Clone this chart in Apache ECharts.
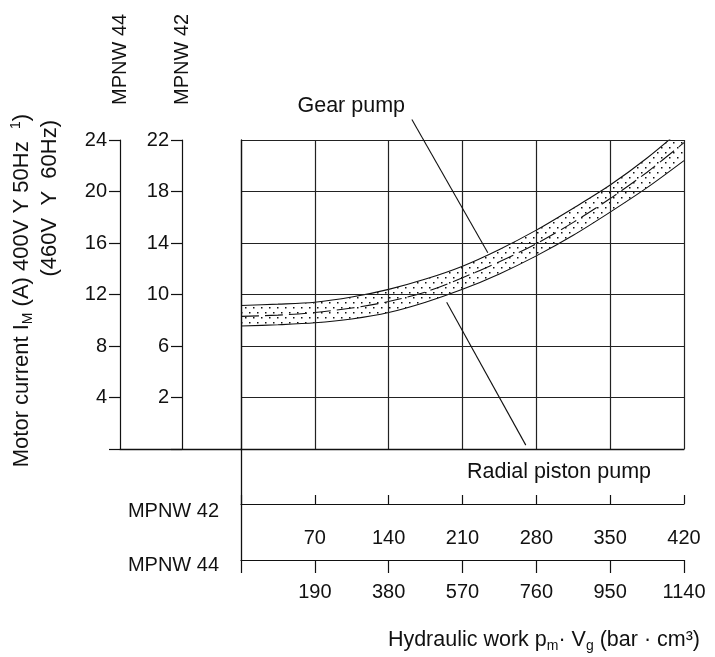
<!DOCTYPE html>
<html><head><meta charset="utf-8">
<script src="https://cdn.jsdelivr.net/npm/echarts@6/dist/echarts.min.js"></script>
<style>html,body{margin:0;padding:0;background:#fff}#c{width:715px;height:657px}</style>
</head><body><div id="c"></div>
<script>
// Hydraulic work for MPNW 42 (bar·cm³) – main horizontal scale
const workMPNW42 = [0, 35, 70, 105, 140, 175, 210, 245, 280, 315, 350, 385, 420];
// Motor current (A, MPNW 44 scale) – band limits and centre line
const bandUpper = [11.15, 11.25, 11.4, 11.8, 12.4, 13.2, 14.2, 15.5, 17.0, 18.7, 20.5, 22.6, 25.0];
const bandCentre = [10.3, 10.4, 10.6, 10.95, 11.45, 12.2, 13.3, 14.55, 15.95, 17.6, 19.45, 21.5, 23.8];
const bandLower = [9.55, 9.65, 9.8, 10.1, 10.6, 11.4, 12.4, 13.6, 15.0, 16.6, 18.4, 20.3, 22.4];

// Tick labels
const ticks44Current = [4, 8, 12, 16, 20, 24];
const ticks42Current = [2, 6, 10, 14, 18, 22];
const ticks42Work = [70, 140, 210, 280, 350, 420];
const ticks44Work = [190, 380, 570, 760, 950, 1140];

// Annotation leader lines (data units of main grid)
const gearLeader = [[162, 25.6], [234, 15.25]];
const radialLeader = [[195, 11.4], [270, 0.3]];

const FONT = '"Liberation Sans", Arial, sans-serif';
const FS = 20;   // tick labels
const FT = 21.5; // annotation / titles
const BLACK = '#111';

function dotPattern() {
  const c = document.createElement('canvas');
  c.width = 8; c.height = 10;
  const g = c.getContext('2d');
  g.fillStyle = '#111';
  g.fillRect(1, 2, 1.5, 1.5);
  g.fillRect(5, 7, 1.5, 1.5);
  return c;
}

const pair = (xs, ys) => xs.map((x, i) => [x, ys[i]]);

const chart = echarts.init(document.getElementById('c'), null, {renderer: 'canvas'});
const lbl = {color: BLACK, fontFamily: FONT, fontSize: FS};

const option = {
  animation: false,
  backgroundColor: '#fff',
  grid: [
    {left: 241, top: 140, width: 443, height: 309},
    {left: 120, top: 140, width: 121, height: 309},
    {left: 241, top: 449, width: 443, height: 111}
  ],
  xAxis: [
    {gridIndex: 0, type: 'value', min: 0, max: 420, interval: 70, z: 5,
     axisLine: {show: true, lineStyle: {color: BLACK, width: 1.3}},
     axisTick: {show: false}, axisLabel: {show: false},
     splitLine: {show: true, lineStyle: {color: '#222', width: 1.2}}},
    {gridIndex: 1, type: 'value', min: 0, max: 1,
     axisLine: {show: true, lineStyle: {color: BLACK, width: 1.3}},
     axisTick: {show: false}, axisLabel: {show: false}, splitLine: {show: false}},
    {gridIndex: 2, type: 'value', position: 'bottom', offset: -56, min: 0, max: 420, interval: 70,
     axisLine: {show: true, onZero: false, lineStyle: {color: BLACK, width: 1.2}},
     axisTick: {show: true, inside: true, length: 9, lineStyle: {color: BLACK, width: 1.2}},
     axisLabel: Object.assign({margin: 24, formatter: v => ticks42Work.includes(v) ? String(v) : ''}, lbl),
     splitLine: {show: false}},
    {gridIndex: 2, type: 'value', position: 'bottom', offset: 0, min: 0, max: 1140, interval: 190,
     axisLine: {show: true, onZero: false, lineStyle: {color: BLACK, width: 1.2}},
     axisTick: {show: true, inside: false, length: 13, lineStyle: {color: BLACK, width: 1.2}},
     axisLabel: Object.assign({margin: 22, formatter: v => ticks44Work.includes(v) ? String(v) : ''}, lbl),
     splitLine: {show: false}}
  ],
  yAxis: [
    {gridIndex: 0, type: 'value', min: 0, max: 24, interval: 4, z: 5,
     axisLine: {show: true, lineStyle: {color: BLACK, width: 1.3}},
     axisTick: {show: false}, axisLabel: {show: false},
     splitLine: {show: true, lineStyle: {color: '#222', width: 1.2}}},
    {gridIndex: 1, type: 'value', position: 'left', offset: 0, min: 0, max: 24, interval: 4,
     name: 'MPNW 44', nameLocation: 'end', nameRotate: 90, nameGap: 35,
     nameTextStyle: {color: BLACK, fontFamily: FONT, fontSize: FS},
     axisLine: {show: true, onZero: false, lineStyle: {color: BLACK, width: 1.2}},
     axisTick: {show: true, length: 11, lineStyle: {color: BLACK, width: 1.2}},
     axisLabel: Object.assign({margin: 13, formatter: v => ticks44Current.includes(v) ? String(v) : ''}, lbl),
     splitLine: {show: false}},
    {gridIndex: 1, type: 'value', position: 'left', offset: -62, min: 0, max: 24, interval: 4,
     name: 'MPNW 42', nameLocation: 'end', nameRotate: 90, nameGap: 35,
     nameTextStyle: {color: BLACK, fontFamily: FONT, fontSize: FS},
     axisLine: {show: true, onZero: false, lineStyle: {color: BLACK, width: 1.2}},
     axisTick: {show: true, length: 11, lineStyle: {color: BLACK, width: 1.2}},
     axisLabel: Object.assign({margin: 13, formatter: v => {
       const i = ticks44Current.indexOf(v); return i >= 0 ? String(ticks42Current[i]) : ''; }}, lbl),
     splitLine: {show: false}},
    {gridIndex: 2, type: 'value', min: 0, max: 1,
     axisLine: {show: true, onZero: false, lineStyle: {color: BLACK, width: 1.3}},
     axisTick: {show: false}, axisLabel: {show: false}, splitLine: {show: false}}
  ],
  series: [
    {name: 'upper', type: 'line', xAxisIndex: 0, yAxisIndex: 0, smooth: 0.3,
     symbol: 'none', data: pair(workMPNW42, bandUpper),
     lineStyle: {color: BLACK, width: 1.1},
     areaStyle: {color: {image: dotPattern(), repeat: 'repeat'}, opacity: 1, origin: 'start'}},
    {name: 'lower', type: 'line', xAxisIndex: 0, yAxisIndex: 0, smooth: 0.3,
     symbol: 'none', data: pair(workMPNW42, bandLower),
     lineStyle: {color: BLACK, width: 1.1},
     areaStyle: {color: '#fff', opacity: 1, origin: 'start'}},
    {name: 'centre', type: 'line', xAxisIndex: 0, yAxisIndex: 0, smooth: 0.3,
     symbol: 'none', data: pair(workMPNW42, bandCentre),
     lineStyle: {color: BLACK, width: 1.1, type: [18, 6]}},
    {name: 'gearLeader', type: 'line', xAxisIndex: 0, yAxisIndex: 0, clip: false, silent: true, z: 6,
     symbol: 'none', data: gearLeader, lineStyle: {color: BLACK, width: 1.1}},
    {name: 'radialLeader', type: 'line', xAxisIndex: 0, yAxisIndex: 0, clip: false, silent: true, z: 6,
     symbol: 'none', data: radialLeader, lineStyle: {color: BLACK, width: 1.1}}
  ],
  graphic: [
    {type: 'text', x: 405, y: 106, style: {text: 'Gear pump', fill: BLACK, font: FT + 'px ' + FONT, textAlign: 'right', textVerticalAlign: 'middle'}},
    {type: 'text', x: 559, y: 472, style: {text: 'Radial piston pump', fill: BLACK, font: FT + 'px ' + FONT, textAlign: 'center', textVerticalAlign: 'middle'}},
    {type: 'text', x: 219, y: 511, style: {text: 'MPNW 42', fill: BLACK, font: FS + 'px ' + FONT, textAlign: 'right', textVerticalAlign: 'middle'}},
    {type: 'text', x: 219, y: 565, style: {text: 'MPNW 44', fill: BLACK, font: FS + 'px ' + FONT, textAlign: 'right', textVerticalAlign: 'middle'}},
    {type: 'text', x: 22, y: 114, rotation: Math.PI / 2,
     style: {text: '{a|Motor current I}{sub|M}{a| (A) 400V Y 50Hz  }{sup|1}{a|)}',
       textAlign: 'right', textVerticalAlign: 'middle',
       rich: {a: {fontSize: 22, fontFamily: FONT, fill: BLACK, color: BLACK, lineHeight: 26},
              sub: {fontSize: 14, fontFamily: FONT, fill: BLACK, color: BLACK, lineHeight: 14, verticalAlign: 'bottom'},
              sup: {fontSize: 14, fontFamily: FONT, fill: BLACK, color: BLACK, lineHeight: 14, verticalAlign: 'top'}}}},
    {type: 'text', x: 50, y: 120, rotation: Math.PI / 2,
     style: {text: '(460V  Y  60Hz)', fill: BLACK, font: '22px ' + FONT, textAlign: 'right', textVerticalAlign: 'middle'}},
    {type: 'text', x: 700, y: 640,
     style: {text: '{a|Hydraulic work p}{sub|m}{a|· V}{sub|g}{a| (bar · cm³)}',
       textAlign: 'right', textVerticalAlign: 'middle',
       rich: {a: {fontSize: FT, fontFamily: FONT, fill: BLACK, color: BLACK, lineHeight: 26},
              sub: {fontSize: 14, fontFamily: FONT, fill: BLACK, color: BLACK, lineHeight: 14, verticalAlign: 'bottom'}}}}
  ]
};
chart.setOption(option);
</script>
</body></html>
